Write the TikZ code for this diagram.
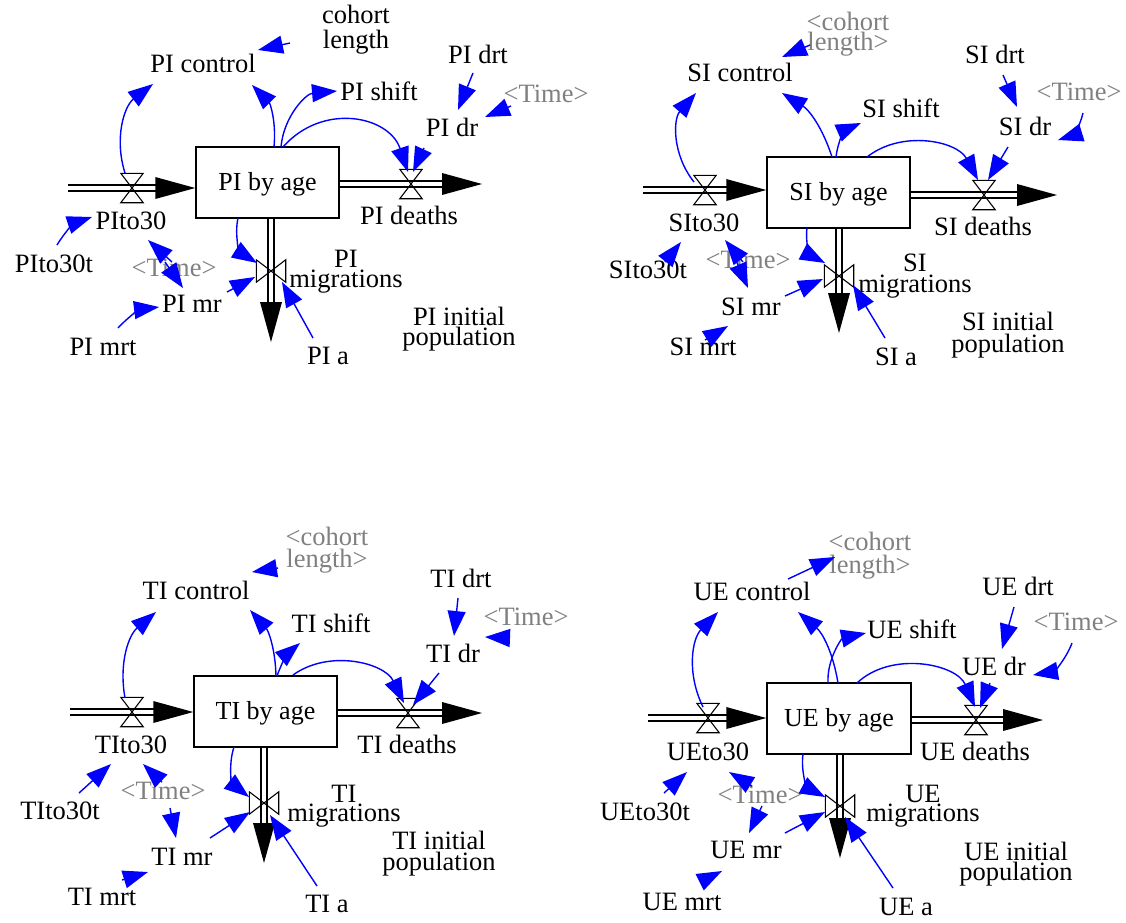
\documentclass[tikz,border=0pt]{standalone}
\usepackage{fontspec}
\setmainfont{Liberation Serif}
\usetikzlibrary{arrows.meta,calc}
\definecolor{linkblue}{RGB}{0,0,255}
\definecolor{shadowgray}{RGB}{128,128,128}
\newcommand\sdValveH[1]{\draw[sdvalve] (#1.north west) -- (#1.north east) -- (#1.south west) -- (#1.south east) -- cycle;}
\newcommand\sdValveV[1]{\draw[sdvalve] (#1.north west) -- (#1.south west) -- (#1.north east) -- (#1.south east) -- cycle;}
\tikzset{
  sdlbl/.style={inner sep=0pt, anchor=base, font=\fontsize{26.5}{26}\selectfont},
  sdgray/.style={sdlbl, text=shadowgray},
  sdmulti/.style={inner sep=0pt, anchor=north, align=center, font=\fontsize{26.5}{#1}\selectfont},
  sdmultigray/.style={sdmulti=#1, text=shadowgray},
  sdstock/.style={draw, line width=1.5pt, fill=white, minimum width=143pt, minimum height=71pt, inner sep=0pt,
    text height=19.5pt, text depth=3.5pt, font=\fontsize{26}{26}\selectfont},
  sdvh/.style={minimum width=22pt, minimum height=29pt, inner sep=0pt},
  sdvv/.style={minimum width=29pt, minimum height=22pt, inner sep=0pt},
  sdvalve/.style={line width=1.1pt, line join=miter},
  sdpipe/.style={draw=black, double=white, double distance=4.5pt, line width=1.3pt, shorten >=39pt},
  sdlink/.style={draw=linkblue, line width=1.4pt, -{Triangle[length=25pt,width=18pt]}},
}
\begin{document}
\begin{tikzpicture}[x=1pt,y=1pt]
\fill[white] (0,0) rectangle (1126,-922);
\useasboundingbox (0,0) rectangle (1126,-922);

% ================= PI =================
\node[sdmulti=25] (PIcohort) at (356,-5) {cohort\\length};
\node[sdlbl] (PIcontrol) at (203,-72) {PI control};
\node[sdlbl] (PIshift) at (379,-100) {PI shift};
\node[sdlbl] (PIdrt) at (478,-63) {PI drt};
\node[sdlbl] (PIdr) at (452,-136) {PI dr};
\node[sdgray] (PItimeA) at (546,-102) {\textless Time\textgreater};
\node[sdstock] (PIstock) at (267.5,-182.5) {PI by age};
\node[sdlbl] (PIto30) at (131,-229) {PIto30};
\node[sdlbl] (PIto30t) at (54,-272) {PIto30t};
\node[sdgray] (PItimeB) at (174,-276) {\textless Time\textgreater};
\node[sdlbl] (PIdeaths) at (409,-224) {PI deaths};
\node[sdmulti=20] (PImig) at (346,-250) {PI\\migrations};
\node[sdlbl] (PImr) at (192,-312) {PI mr};
\node[sdlbl] (PImrt) at (103,-355) {PI mrt};
\node[sdlbl] (PIa) at (328,-364) {PI a};
\node[sdmulti=20] (PIinit) at (459,-307) {PI initial\\population};
\node[sdvh] (PIv1) at (132,-188) {};
\node[sdvh] (PIv2) at (411,-184) {};
\node[sdvv] (PIv3) at (271,-271) {};
\coordinate (PIsrc) at (68,-188);
\coordinate (PIsink) at (482,-184);
\coordinate (PIsinkB) at (271,-342);
\coordinate (PIin) at (PIstock.west |- PIv1);
\draw[sdpipe] (PIsrc) -- (PIin);
\fill (PIin) -- ++(-40,11) -- ++(0,-22) -- cycle;
\draw[sdpipe] (PIstock.east |- PIv2) -- (PIsink);
\fill (PIsink) -- ++(-40,11) -- ++(0,-22) -- cycle;
\draw[sdpipe] (PIstock.south -| PIv3) -- (PIsinkB);
\fill (PIsinkB) -- ++(-11,40) -- ++(22,0) -- cycle;
\sdValveH{PIv1} \sdValveH{PIv2} \sdValveV{PIv3}
\draw[sdlink] ($(PIcohort.north)+(-66,-38)$) -- ($(PIcontrol.base)+(55,22)$);
\draw[sdlink] ($(PIv1)+(-7,15)$) to[bend left=35] ($(PIcontrol.base)+(-50,-12)$);
\draw[sdlink] ($(PIstock)+(6.5,35.5)$) to[bend right=25] ($(PIcontrol.base)+(49,-13)$);
\draw[sdlink] ($(PIstock)+(13.5,35.5)$) to[bend left=40] ($(PIshift.base)+(-42,9)$);
\draw[sdlink] ($(PIstock)+(15.5,35.5)$) to[bend left=60,looseness=1.2] ($(PIv2)+(-3,12)$);
\draw[sdlink] ($(PIdr.base)+(-28,-12)$) -- ($(PIv2)+(2,12)$);
\draw[sdlink] ($(PIdrt.base)+(-5,-10)$) -- ($(PIdr.base)+(6,26)$);
\draw[sdlink] ($(PItimeA.base)+(-35,-4)$) -- ($(PIdr.base)+(33,19)$);
\draw[sdlink] ($(PIto30t.base)+(3,27)$) to[bend left=20] ($(PIto30.base)+(-39,12)$);
\draw[sdlink] ($(PItimeB.base)+(-2,14)$) -- ($(PIto30.base)+(17,-11)$);
\draw[sdlink] ($(PItimeB.base)+(-9,14)$) -- ($(PImr.base)+(-9,24)$);
\draw[sdlink] ($(PIstock)+(-29.5,-35.5)$) to[bend right=35] ($(PIv3)+(-14,8)$);
\draw[sdlink] ($(PImr.base)+(35,20)$) -- ($(PIv3)+(-16,-6)$);
\draw[sdlink] ($(PImrt.base)+(15,27)$) to[bend left=20] ($(PImr.base)+(-33,5)$);
\draw[sdlink] ($(PIa.base)+(-15,26)$) -- ($(PIv3)+(11,-11)$);

% ================= SI =================
\node[sdmultigray=17] (SIcohort) at (848,-12) {\textless cohort\\length\textgreater};
\node[sdlbl] (SIcontrol) at (740,-81) {SI control};
\node[sdlbl] (SIshift) at (901,-117) {SI shift};
\node[sdlbl] (SIdrt) at (995,-63) {SI drt};
\node[sdlbl] (SIdr) at (1025,-135) {SI dr};
\node[sdgray] (SItimeA) at (1079,-100) {\textless Time\textgreater};
\node[sdstock] (SIstock) at (838.5,-192.5) {SI by age};
\node[sdlbl] (SIto30) at (704,-231) {SIto30};
\node[sdlbl] (SIto30t) at (648,-278) {SIto30t};
\node[sdgray] (SItimeB) at (748,-268) {\textless Time\textgreater};
\node[sdlbl] (SIdeaths) at (983,-235) {SI deaths};
\node[sdmulti=21] (SImig) at (915,-254) {SI\\migrations};
\node[sdlbl] (SImr) at (751,-315) {SI mr};
\node[sdlbl] (SImrt) at (703,-355) {SI mrt};
\node[sdlbl] (SIa) at (896,-365) {SI a};
\node[sdmulti=22] (SIinit) at (1008,-312) {SI initial\\population};
\node[sdvh] (SIv1) at (705,-190) {};
\node[sdvh] (SIv2) at (984,-195) {};
\node[sdvv] (SIv3) at (839,-276) {};
\coordinate (SIsrc) at (643,-190);
\coordinate (SIsink) at (1057,-195);
\coordinate (SIsinkB) at (839,-333);
\coordinate (SIin) at (SIstock.west |- SIv1);
\draw[sdpipe] (SIsrc) -- (SIin);
\fill (SIin) -- ++(-40,11) -- ++(0,-22) -- cycle;
\draw[sdpipe] (SIstock.east |- SIv2) -- (SIsink);
\fill (SIsink) -- ++(-40,11) -- ++(0,-22) -- cycle;
\draw[sdpipe] (SIstock.south -| SIv3) -- (SIsinkB);
\fill (SIsinkB) -- ++(-11,40) -- ++(22,0) -- cycle;
\sdValveH{SIv1} \sdValveH{SIv2} \sdValveV{SIv3}
\draw[sdlink] ($(SIcohort.north)+(-38,-33)$) -- ($(SIcontrol.base)+(42,24)$);
\draw[sdlink] ($(SIv1)+(-11,8)$) to[bend left=40] ($(SIcontrol.base)+(-44,-12)$);
\draw[sdlink] ($(SIstock)+(-6.5,35.5)$) to[bend right=20] ($(SIcontrol.base)+(42,-12)$);
\draw[sdlink] ($(SIstock)+(-2.5,35.5)$) to[bend left=30] ($(SIshift.base)+(-40,-6)$);
\draw[sdlink] ($(SIstock)+(28.5,35.5)$) to[bend left=50] ($(SIv2)+(-6,15)$);
\draw[sdlink] ($(SIdr.base)+(-17,-12)$) -- ($(SIv2)+(4,15)$);
\draw[sdlink] ($(SIdrt.base)+(8,-12)$) -- ($(SIdr.base)+(-8,28)$);
\draw[sdlink] ($(SItimeA.base)+(4,-13)$) to[bend left=30] ($(SIdr.base)+(33,-5)$);
\draw[sdlink] ($(SIto30t.base)+(17,16)$) -- ($(SIto30.base)+(-23,-11)$);
\draw[sdlink] ($(SItimeB.base)+(-5,6)$) -- ($(SIto30.base)+(21,-9)$);
\draw[sdlink] ($(SItimeB.base)+(-13,10)$) -- ($(SImr.base)+(-3,27)$);
\draw[sdlink] ($(SIstock)+(-31.5,-35.5)$) to[bend right=35] ($(SIv3)+(-14,13)$);
\draw[sdlink] ($(SImr.base)+(34,19)$) -- ($(SIv3)+(-16,-3)$);
\draw[sdlink] ($(SImrt.base)+(2,15)$) -- ($(SImr.base)+(-23,-11)$);
\draw[sdlink] ($(SIa.base)+(-11,27)$) -- ($(SIv3)+(14,-9)$);

% ================= TI =================
\node[sdmultigray=22] (TIcohort) at (327,-527) {\textless cohort\\length\textgreater};
\node[sdlbl] (TIcontrol) at (196,-599) {TI control};
\node[sdlbl] (TIshift) at (331,-632) {TI shift};
\node[sdlbl] (TIdrt) at (461,-587) {TI drt};
\node[sdlbl] (TIdr) at (453,-662) {TI dr};
\node[sdgray] (TItimeA) at (526,-625) {\textless Time\textgreater};
\node[sdstock] (TIstock) at (265.5,-711.5) {TI by age};
\node[sdlbl] (TIto30) at (131,-753) {TIto30};
\node[sdlbl] (TIto30t) at (60,-819) {TIto30t};
\node[sdgray] (TItimeB) at (163,-799) {\textless Time\textgreater};
\node[sdlbl] (TIdeaths) at (407,-753) {TI deaths};
\node[sdmulti=17] (TImig) at (344,-785) {TI\\migrations};
\node[sdlbl] (TImr) at (182,-865) {TI mr};
\node[sdlbl] (TImrt) at (102,-905) {TI mrt};
\node[sdlbl] (TIa) at (327,-912) {TI a};
\node[sdmulti=21] (TIinit) at (439,-831) {TI initial\\population};
\node[sdvh] (TIv1) at (132,-712) {};
\node[sdvh] (TIv2) at (408,-713) {};
\node[sdvv] (TIv3) at (264,-803) {};
\coordinate (TIsrc) at (70,-712);
\coordinate (TIsink) at (482,-713);
\coordinate (TIsinkB) at (264,-863);
\coordinate (TIin) at (TIstock.west |- TIv1);
\draw[sdpipe] (TIsrc) -- (TIin);
\fill (TIin) -- ++(-40,11) -- ++(0,-22) -- cycle;
\draw[sdpipe] (TIstock.east |- TIv2) -- (TIsink);
\fill (TIsink) -- ++(-40,11) -- ++(0,-22) -- cycle;
\draw[sdpipe] (TIstock.south -| TIv3) -- (TIsinkB);
\fill (TIsinkB) -- ++(-11,40) -- ++(22,0) -- cycle;
\sdValveH{TIv1} \sdValveH{TIv2} \sdValveV{TIv3}
\draw[sdlink] ($(TIcohort.north)+(-49,-41)$) -- ($(TIcontrol.base)+(56,27)$);
\draw[sdlink] ($(TIv1)+(-7,14)$) to[bend left=30] ($(TIcontrol.base)+(-40,-13)$);
\draw[sdlink] ($(TIstock)+(10.5,35.5)$) to[bend right=20] ($(TIcontrol.base)+(54,-11)$);
\draw[sdlink] ($(TIstock)+(11.5,35.5)$) to[bend left=15] ($(TIshift.base)+(-31,-11)$);
\draw[sdlink] ($(TIstock)+(27.5,36.5)$) to[bend left=50] ($(TIv2)+(-4,10)$);
\draw[sdlink] ($(TIdr.base)+(-14,-11)$) -- ($(TIv2)+(5,8)$);
\draw[sdlink] ($(TIdrt.base)+(-3,-11)$) -- ($(TIdr.base)+(1,26)$);
\draw[sdlink] ($(TItimeA.base)+(-16,-13)$) -- ($(TIdr.base)+(32,25)$);
\draw[sdlink] ($(TIto30t.base)+(19,26)$) -- ($(TIto30.base)+(-20,-11)$);
\draw[sdlink] ($(TItimeB.base)+(-1,17)$) -- ($(TIto30.base)+(12,-11)$);
\draw[sdlink] ($(TItimeB.base)+(7,-9)$) -- ($(TImr.base)+(-6,27)$);
\draw[sdlink] ($(TIstock)+(-31.5,-35.5)$) to[bend right=35] ($(TIv3)+(-15,6)$);
\draw[sdlink] ($(TImr.base)+(28,27)$) -- ($(TIv3)+(-14,-9)$);
\draw[sdlink] ($(TImrt.base)+(20,25)$) -- ($(TImr.base)+(-34,-7)$);
\draw[sdlink] ($(TIa.base)+(-10,26)$) -- ($(TIv3)+(6,-12)$);

% ================= UE =================
\node[sdmultigray=23] (UEcohort) at (870,-532) {\textless cohort\\length\textgreater};
\node[sdlbl] (UEcontrol) at (752,-600) {UE control};
\node[sdlbl] (UEshift) at (912,-638) {UE shift};
\node[sdlbl] (UEdrt) at (1018,-595) {UE drt};
\node[sdlbl] (UEdr) at (994,-675) {UE dr};
\node[sdgray] (UEtimeA) at (1076,-630) {\textless Time\textgreater};
\node[sdstock, minimum width=144pt] (UEstock) at (839,-718.5) {UE by age};
\node[sdlbl] (UEto30) at (708,-760) {UEto30};
\node[sdlbl] (UEto30t) at (645,-820) {UEto30t};
\node[sdgray] (UEtimeB) at (760,-803) {\textless Time\textgreater};
\node[sdlbl] (UEdeaths) at (975,-760) {UE deaths};
\node[sdmulti=19] (UEmig) at (923,-785) {UE\\migrations};
\node[sdlbl] (UEmr) at (746,-858) {UE mr};
\node[sdlbl] (UEmrt) at (682,-910) {UE mrt};
\node[sdlbl] (UEa) at (906,-915) {UE a};
\node[sdmulti=20] (UEinit) at (1016,-842) {UE initial\\population};
\node[sdvh] (UEv1) at (708,-718) {};
\node[sdvh] (UEv2) at (976,-720) {};
\node[sdvv] (UEv3) at (840,-806) {};
\coordinate (UEsrc) at (648,-718);
\coordinate (UEsink) at (1043,-720);
\coordinate (UEsinkB) at (840,-858);
\coordinate (UEin) at (UEstock.west |- UEv1);
\draw[sdpipe] (UEsrc) -- (UEin);
\fill (UEin) -- ++(-40,11) -- ++(0,-22) -- cycle;
\draw[sdpipe] (UEstock.east |- UEv2) -- (UEsink);
\fill (UEsink) -- ++(-40,11) -- ++(0,-22) -- cycle;
\draw[sdpipe] (UEstock.south -| UEv3) -- (UEsinkB);
\fill (UEsinkB) -- ++(-11,40) -- ++(22,0) -- cycle;
\sdValveH{UEv1} \sdValveH{UEv2} \sdValveV{UEv3}
\draw[sdlink] ($(UEcontrol.base)+(36,21)$) -- ($(UEcohort.north)+(-35,-25)$);
\draw[sdlink] ($(UEv1)+(-5,11)$) to[bend left=35] ($(UEcontrol.base)+(-34,-12)$);
\draw[sdlink] ($(UEstock)+(-1,35.5)$) to[bend right=20] ($(UEcontrol.base)+(46,-12)$);
\draw[sdlink] ($(UEstock)+(-11,35.5)$) to[bend left=40] ($(UEshift.base)+(-46,5)$);
\draw[sdlink] ($(UEstock)+(18,35.5)$) to[bend left=55] ($(UEv2)+(-1,13)$);
\draw[sdlink] ($(UEdr.base)+(-4,-8)$) -- ($(UEv2)+(4,12)$);
\draw[sdlink] ($(UEdrt.base)+(-4,-12)$) -- ($(UEdr.base)+(8,26)$);
\draw[sdlink] ($(UEtimeA.base)+(-4,-13)$) to[bend left=30] ($(UEdr.base)+(39,0)$);
\draw[sdlink] ($(UEto30t.base)+(19,27)$) -- ($(UEto30.base)+(-21,-12)$);
\draw[sdlink] ($(UEtimeB.base)+(-8,17)$) -- ($(UEto30.base)+(21,-12)$);
\draw[sdlink] ($(UEtimeB.base)+(2,-3)$) -- ($(UEmr.base)+(3,25)$);
\draw[sdlink] ($(UEstock)+(-36,-35.5)$) to[bend right=35] ($(UEv3)+(-15,9)$);
\draw[sdlink] ($(UEmr.base)+(39,25)$) -- ($(UEv3)+(-15,-6)$);
\draw[sdlink] ($(UEmrt.base)+(18,28)$) -- ($(UEmr.base)+(-24,-13)$);
\draw[sdlink] ($(UEa.base)+(-13,27)$) -- ($(UEv3)+(5,-11)$);
\end{tikzpicture}
\end{document}
